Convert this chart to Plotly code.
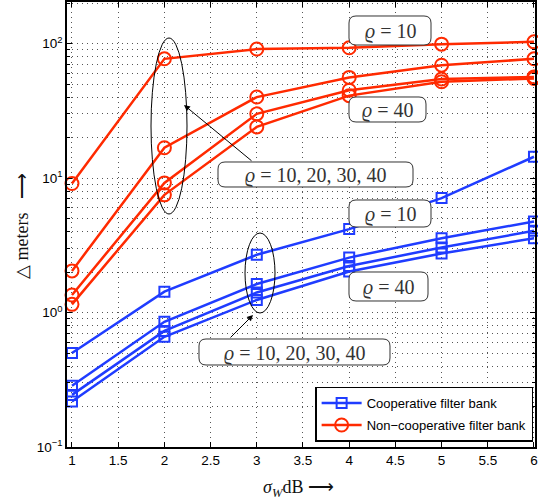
import plotly.graph_objects as go

# ---- data ----
sigma_w = [1, 2, 3, 4, 5, 6]
x_ticks = [1, 1.5, 2, 2.5, 3, 3.5, 4, 4.5, 5, 5.5, 6]
x_tick_labels = ["1", "1.5", "2", "2.5", "3", "3.5", "4", "4.5", "5", "5.5", "6"]
y_ticks = [0.1, 1, 10, 100]
y_tick_labels = ["10<sup>−1</sup>", "10<sup>0</sup>", "10<sup>1</sup>", "10<sup>2</sup>"]

coop_rho10 = [0.50, 1.43, 2.69, 4.17, 7.09, 14.4]
coop_rho20 = [0.285, 0.853, 1.63, 2.56, 3.57, 4.75]
coop_rho30 = [0.244, 0.73, 1.41, 2.22, 3.04, 4.05]
coop_rho40 = [0.218, 0.66, 1.24, 2.02, 2.75, 3.57]

noncoop_rho10 = [9.1, 77, 91, 93, 99, 103]
noncoop_rho20 = [2.04, 16.8, 40, 56, 69, 77]
noncoop_rho30 = [1.35, 9.2, 30, 45, 54.5, 56.5]
noncoop_rho40 = [1.15, 7.5, 24, 41, 52, 55]

series_names = ["Cooperative filter bank", "Non−cooperative filter bank"]

BLUE = "#1f3cff"
RED = "#ff2a00"

W, H = 538, 503
ML, MR, MT, MB = 67, 3, 2, 56
PW, PH = W - ML - MR, H - MT - MB


def px2paper(px, py):
    return (px - ML) / PW, (H - MB - py) / PH


fig = go.Figure()

for i, ys in enumerate([coop_rho10, coop_rho20, coop_rho30, coop_rho40]):
    fig.add_trace(go.Scatter(
        x=sigma_w, y=ys, mode="lines+markers",
        line=dict(color=BLUE, width=2.5),
        marker=dict(symbol="square-open", size=10, color=BLUE, line=dict(width=2)),
        name=series_names[0], legendgroup="coop", showlegend=(i == 0),
        cliponaxis=False))

for i, ys in enumerate([noncoop_rho10, noncoop_rho20, noncoop_rho30, noncoop_rho40]):
    fig.add_trace(go.Scatter(
        x=sigma_w, y=ys, mode="lines+markers",
        line=dict(color=RED, width=2.5),
        marker=dict(symbol="circle-open", size=13, color=RED, line=dict(width=2)),
        name=series_names[1], legendgroup="noncoop", showlegend=(i == 0),
        cliponaxis=False))

shapes = []
annotations = []

# ellipses (pixel boxes)
for (x0, y0, x1, y1) in [(151, 38, 187, 214), (245, 233, 275, 313)]:
    a0, b0 = px2paper(x0, y0)
    a1, b1 = px2paper(x1, y1)
    shapes.append(dict(type="circle", xref="paper", yref="paper",
                       x0=a0, y0=b1, x1=a1, y1=b0,
                       line=dict(color="black", width=1), layer="above"))


def rrect(x0, y0, x1, y1, r=7):
    def P(x, y):
        a, b = px2paper(x, y)
        return f"{a:.5f},{b:.5f}"
    d = (f"M{P(x0 + r, y0)} L{P(x1 - r, y0)} Q{P(x1, y0)} {P(x1, y0 + r)} "
         f"L{P(x1, y1 - r)} Q{P(x1, y1)} {P(x1 - r, y1)} "
         f"L{P(x0 + r, y1)} Q{P(x0, y1)} {P(x0, y1 - r)} "
         f"L{P(x0, y0 + r)} Q{P(x0, y0)} {P(x0 + r, y0)} Z")
    return d


boxes = [
    ((349, 16, 431, 45), "<i>ϱ</i> = 10"),
    ((349, 97, 426, 122), "<i>ϱ</i> = 40"),
    ((218, 162, 413, 187), "<i>ϱ</i> = 10, 20, 30, 40"),
    ((349, 200, 431, 227), "<i>ϱ</i> = 10"),
    ((349, 272, 428, 301), "<i>ϱ</i> = 40"),
    ((199, 339, 390, 365), "<i>ϱ</i> = 10, 20, 30, 40"),
]
for (x0, y0, x1, y1), txt in boxes:
    shapes.append(dict(type="path", xref="paper", yref="paper",
                       path=rrect(x0, y0, x1, y1),
                       fillcolor="white", line=dict(color="#333333", width=1),
                       layer="above"))
    cx, cy = px2paper((x0 + x1) / 2, (y0 + y1) / 2 + 1)
    annotations.append(dict(xref="paper", yref="paper", x=cx, y=cy,
                            text=txt, showarrow=False,
                            font=dict(family="Liberation Serif", size=20, color="#333333"),
                            xanchor="center", yanchor="middle"))

# arrows: head pixel, tail pixel
for (hx, hy), (tx, ty) in [((184, 105), (253, 162)), ((253, 315), (229, 339))]:
    a, b = px2paper(hx, hy)
    annotations.append(dict(xref="paper", yref="paper", x=a, y=b, text="",
                            showarrow=True, arrowhead=2, arrowsize=1.2, arrowwidth=1,
                            arrowcolor="black", ax=tx - hx, ay=ty - hy,
                            axref="pixel", ayref="pixel"))

# axis titles
ax_, ay_ = px2paper(22, 226)
annotations.append(dict(xref="paper", yref="paper", x=ax_, y=ay_,
                        text="△ meters   ⟶", textangle=-90, showarrow=False,
                        font=dict(family="Liberation Serif", size=18, color="#111"),
                        xanchor="center", yanchor="middle"))
bx_, by_ = px2paper(298, 488)
annotations.append(dict(xref="paper", yref="paper", x=bx_, y=by_,
                        text="<i>σ</i><sub><i>W</i></sub>dB ⟶", showarrow=False,
                        font=dict(family="Liberation Serif", size=18, color="#111"),
                        xanchor="center", yanchor="middle"))

GRID_DASH = "1px,4px"
grid_kw = dict(showgrid=True, gridcolor="#555555", griddash=GRID_DASH, gridwidth=1)

fig.update_layout(
    width=W, height=H,
    margin=dict(l=ML, r=MR, t=MT, b=MB, autoexpand=False),
    paper_bgcolor="white", plot_bgcolor="white",
    font=dict(family="Liberation Sans", size=13.5, color="black"),
    showlegend=True,
    legend=dict(x=0.996, y=0.012, xanchor="right", yanchor="bottom",
                bgcolor="white", bordercolor="black", borderwidth=1.5,
                font=dict(family="Liberation Sans", size=13),
                tracegroupgap=2, itemwidth=40),
    xaxis=dict(range=[0.946, 6.011], tickvals=x_ticks, ticktext=x_tick_labels,
               ticks="inside", ticklen=5, tickcolor="black",
               showline=True, linecolor="black", linewidth=1.5, mirror="ticks",
               zeroline=False, **grid_kw),
    yaxis=dict(type="log", range=[-1, 2.309], tickvals=y_ticks, ticktext=y_tick_labels,
               ticks="inside", ticklen=5, tickcolor="black",
               showline=True, linecolor="black", linewidth=1.5, mirror="ticks",
               zeroline=False, **grid_kw,
               minor=dict(dtick="D1", ticks="inside", ticklen=3, tickcolor="black",
                          showgrid=True, gridcolor="#555555", griddash=GRID_DASH,
                          gridwidth=1)),
    shapes=shapes,
    annotations=annotations,
)

fig.write_html("out.html", config={"displayModeBar": False},
               post_script="document.body.style.margin='0px';document.body.style.padding='0px';")
